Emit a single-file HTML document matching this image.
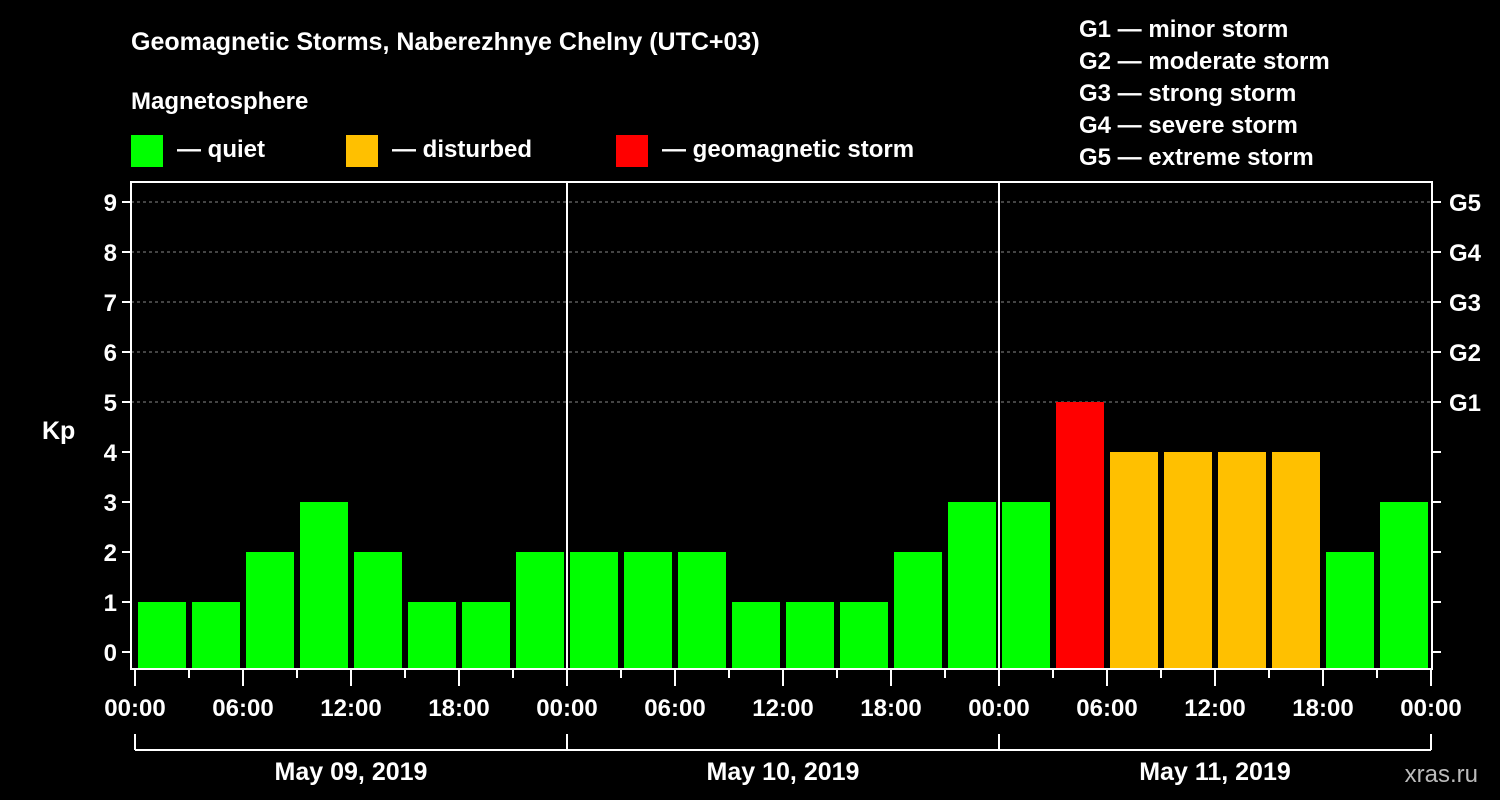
<!DOCTYPE html>
<html><head><meta charset="utf-8"><style>
body{margin:0;background:#000;}
svg{display:block;font-family:"Liberation Sans",sans-serif;font-weight:bold;}
</style></head><body>
<svg id="c" width="1500" height="800" viewBox="0 0 1500 800">
<rect width="1500" height="800" fill="#000"/>
<text x="131" y="50" fill="#fff" font-size="25">Geomagnetic Storms, Naberezhnye Chelny (UTC+03)</text>
<text x="131" y="109" fill="#fff" font-size="24">Magnetosphere</text>
<g><rect x="131" y="135" width="32" height="32" fill="#00ff00"/><text x="177" y="157" fill="#fff" font-size="24">— quiet</text></g>
<g><rect x="346" y="135" width="32" height="32" fill="#ffc000"/><text x="392" y="157" fill="#fff" font-size="24">— disturbed</text></g>
<g><rect x="616" y="135" width="32" height="32" fill="#ff0000"/><text x="662" y="157" fill="#fff" font-size="24">— geomagnetic storm</text></g>
<g fill="#fff" font-size="24">
<text x="1079" y="37">G1 — minor storm</text>
<text x="1079" y="69">G2 — moderate storm</text>
<text x="1079" y="101">G3 — strong storm</text>
<text x="1079" y="133">G4 — severe storm</text>
<text x="1079" y="165">G5 — extreme storm</text>
</g>
<text x="42" y="439" fill="#fff" font-size="25">Kp</text>
<text x="1478" y="782" fill="#bbb" font-size="24" text-anchor="end" font-weight="normal">xras.ru</text>
<g id="grid"></g><g id="bars"></g><g id="axes"></g>
</svg>
<script>
const kpValues=[1,1,2,3,2,1,1,2, 2,2,2,1,1,1,2,3, 3,5,4,4,4,4,2,3];
const dayLabels=["May 09, 2019","May 10, 2019","May 11, 2019"];
const timeLabels=["00:00","06:00","12:00","18:00"];
const gLabels=["G1","G2","G3","G4","G5"];
const NS="http://www.w3.org/2000/svg";
const svg=document.getElementById('c');
const x0=135,slot=54,L=131,R=1432,T=182,B=669;
const xs=i=>x0+i*slot;
const ys=v=>652-v*50;
function mk(tag,at,parent){const e=document.createElementNS(NS,tag);for(const k in at)e.setAttribute(k,at[k]);parent.appendChild(e);return e;}
const grid=document.getElementById('grid'),bars=document.getElementById('bars'),axes=document.getElementById('axes');
for(let v=5;v<=9;v++){const l=mk('line',{x1:L,x2:R,y1:ys(v),y2:ys(v),stroke:'#888','stroke-dasharray':'3,3','stroke-width':1},grid);

}
kpValues.forEach((v,i)=>{const c=v>=5?'#ff0000':v>=4?'#ffc000':'#00ff00';
const r=mk('rect',{x:xs(i)+3,y:ys(v),width:48,height:B-ys(v),fill:c},bars);

});
mk('rect',{x:L,y:T,width:R-L,height:B-T,fill:'none',stroke:'#fff','stroke-width':2},axes);
for(let d=1;d<3;d++){mk('line',{x1:xs(d*8),x2:xs(d*8),y1:T,y2:B,stroke:'#fff','stroke-width':2},axes);}
for(let v=0;v<=9;v++){mk('line',{x1:L-9,x2:L,y1:ys(v),y2:ys(v),stroke:'#fff','stroke-width':2},axes);
mk('line',{x1:R,x2:R+9,y1:ys(v),y2:ys(v),stroke:'#fff','stroke-width':2},axes);
const t=mk('text',{x:L-14,y:ys(v)+9,fill:'#fff','font-size':24,'text-anchor':'end'},axes);t.textContent=v;

}
gLabels.forEach((g,i)=>{const t=mk('text',{x:R+17,y:ys(5+i)+9,fill:'#fff','font-size':24},axes);t.textContent=g;

});
for(let i=0;i<=24;i++){const long=i%2===0;mk('line',{x1:xs(i),x2:xs(i),y1:B,y2:long?686:678,stroke:'#fff','stroke-width':2},axes);
if(long){const t=mk('text',{x:xs(i),y:716,fill:'#fff','font-size':24,'text-anchor':'middle'},axes);t.textContent=timeLabels[(i/2)%4];

}}
mk('line',{x1:xs(0),x2:xs(24),y1:750,y2:750,stroke:'#fff','stroke-width':2},axes);
for(let d=0;d<=3;d++)mk('line',{x1:xs(d*8),x2:xs(d*8),y1:734,y2:750,stroke:'#fff','stroke-width':2},axes);
dayLabels.forEach((s,d)=>{const t=mk('text',{x:xs(d*8+4),y:780,fill:'#fff','font-size':25,'text-anchor':'middle'},axes);t.textContent=s;

});
</script>
</body></html>
